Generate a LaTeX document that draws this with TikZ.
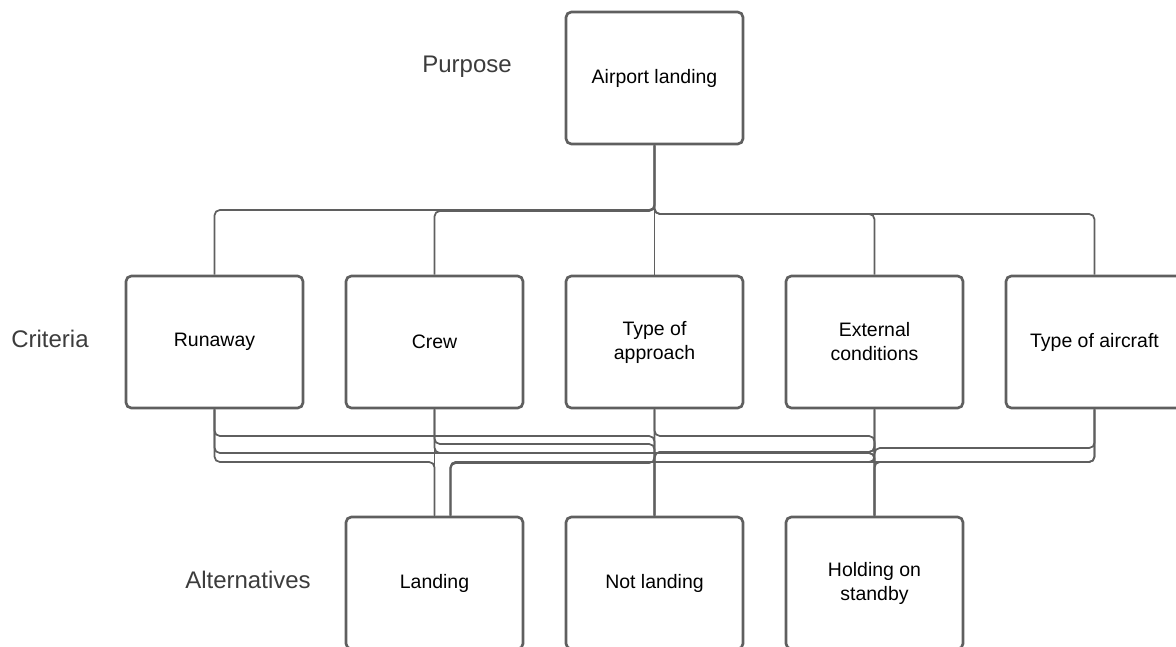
\documentclass[tikz,border=0pt]{standalone}
\usepackage{fontspec}
\setmainfont{Liberation Sans}
\definecolor{linegray}{HTML}{5F5F5F}
\definecolor{labelgray}{HTML}{3C3C3C}
\begin{document}
\begin{tikzpicture}[x=0.75pt, y=-0.75pt]
      \tikzstyle{box}=[draw=linegray, line width=2pt, rounded corners=4pt, minimum width=132.75pt, minimum height=99pt, align=center, font=\fontsize{14.6}{18}\selectfont]
      \tikzstyle{level}=[text=labelgray, font=\fontsize{18}{22}\selectfont]
      \tikzstyle{link}=[draw=linegray, line width=1.3pt, rounded corners=4pt]
      \useasboundingbox (0,0) rectangle (1176,646);

      % draw boxes
      \node [box] (goal) at (654.5,78) {Airport landing};

      \foreach \l [count=\x] in {Runaway, Crew, {Type of\\approach}, {External\\conditions}, Type of aircraft}
      \node [box] (crit-\x) at (214.5+\x*220-220,342) {\l};

      \foreach \l [count=\x] in {Landing, Not landing, {Holding on\\standby}}
      \node [box] (alt-\x) at (434.5+\x*220-220,583) {\l};

      % draw level text
      \node [level] (purpose) at (467,67) {Purpose};
      \node [level] (criteria) at (50,339) {Criteria};
      \node [level] (alternatives) at (248,580) {Alternatives};

      % draw lines
      \coordinate (landin) at ([xshift=12pt]alt-1.north);

      \foreach \j/\h in {1/210,2/211,3/214,4/214,5/214}
      \draw [link] (goal.south) |- (crit-\j.north |- 0,\h) -- (crit-\j.north);

      \foreach \a/\b/\h in {1/alt-1/462, 1/alt-2/436, 1/alt-3/453,
                            2/alt-1/450, 2/alt-2/444, 2/alt-3/453,
                            3/alt-2/450, 3/landin/463, 3/alt-3/436,
                            4/alt-3/450, 4/alt-2/452, 4/landin/462,
                            5/alt-3/462, 5/landin/462}
      \draw [link] (crit-\a.south) -- (crit-\a.south |- 0,\h) -- (\b |- 0,\h) -- (\b.north);

      \draw [link] (crit-5.south) -- (crit-5.south |- 0,448) -- (alt-3.north |- 0,448) -- (alt-3.north |- 0,452) -- (alt-2.north |- 0,452) -- (alt-2.north);

    \end{tikzpicture}
\end{document}
